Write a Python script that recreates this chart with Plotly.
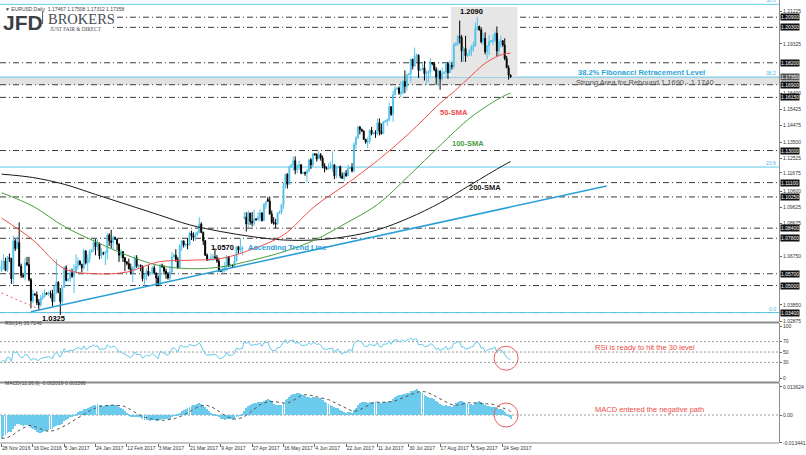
import plotly.graph_objects as go
import pandas as pd
import numpy as np

# ---------------- DATA ----------------
opens = [1.0590,1.0615,1.0645,1.0590,1.0665,
 1.0660,1.0540,1.0765,1.0720,1.0755,1.0615,
 1.0560,1.0555,1.0635,1.0625,1.0535,1.0410,
 1.0450,1.0445,1.0400,1.0385,1.0425,1.0435,
 1.0455,1.0450,1.0455,1.0450,1.0405,1.0495,
 1.0520,1.0460,1.0405,1.0490,1.0605,
 1.0530,1.0540,1.0575,1.0555,1.0580,1.0615,
 1.0645,1.0625,1.0605,1.0705,1.0635,1.0660,
 1.0700,1.0710,1.0755,1.0730,1.0750,1.0675,
 1.0695,1.0690,1.0695,1.0800,1.0765,1.0755,
 1.0785,1.0775,1.0745,1.0680,1.0700,1.0665,
 1.0640,1.0630,1.0600,1.0575,1.0605,1.0665,
 1.0615,1.0620,1.0615,1.0540,1.0560,1.0585,
 1.0565,1.0575,1.0605,1.0575,1.0545,1.0505,
 1.0620,1.0610,1.0585,1.0570,1.0545,1.0580,
 1.0670,1.0680,1.0655,1.0605,1.0735,1.0765,
 1.0740,1.0745,1.0740,1.0810,1.0795,1.0785,
 1.0800,1.0815,1.0865,1.0815,1.0765,1.0680,
 1.0650,1.0655,1.0665,1.0670,1.0665,1.0645,
 1.0590,1.0585,1.0600,1.0615,1.0670,1.0615,
 1.0620,1.0615,1.0645,1.0730,1.0710,1.0715,
 1.0900,1.0905,1.0865,1.0930,1.0880,1.0870,
 1.0895,1.0890,1.0905,1.0930,1.0885,1.0980,
 1.1010,1.1000,1.0925,1.0875,1.0870,1.0865,
 1.0930,1.0935,1.0980,1.1090,1.1160,1.1100,
 1.1205,1.1215,1.1240,1.1185,1.1210,1.1215,
 1.1165,1.1170,1.1165,1.1180,1.1245,1.1215,
 1.1280,1.1275,1.1250,1.1275,1.1255,1.1210,
 1.1195,1.1190,1.1200,1.1210,1.1215,1.1150,
 1.1200,1.1205,1.1150,1.1135,1.1165,1.1150,
 1.1195,1.1200,1.1180,1.1335,1.1375,1.1440,
 1.1425,1.1415,1.1365,1.1350,1.1355,1.1420,
 1.1400,1.1405,1.1400,1.1465,1.1415,1.1400,
 1.1470,1.1475,1.1480,1.1560,1.1515,1.1630,
 1.1665,1.1670,1.1640,1.1645,1.1710,1.1680,
 1.1750,1.1755,1.1840,1.1800,1.1860,1.1865,
 1.1775,1.1780,1.1790,1.1755,1.1760,1.1765,
 1.1820,1.1815,1.1780,1.1735,1.1770,1.1725,
 1.1760,1.1765,1.1815,1.1760,1.1805,1.1800,
 1.1925,1.1935,1.1975,1.1970,1.1890,1.1905,
 1.1860,1.1870,1.1890,1.1915,1.1920,1.2025,
 1.2035,1.2015,1.1945,1.1965,1.1885,1.1920,
 1.1945,1.1950,1.1955,1.1995,1.1890,1.1940,
 1.1950,1.1925,1.1845,1.1790,1.17467]
highs = [1.0650,1.0685,1.0665,1.0675,1.0690,
 1.0665,1.0795,1.0775,1.0790,1.0875,1.0630,
 1.0575,1.0665,1.0670,1.0670,1.0545,1.0475,
 1.0455,1.0465,1.0420,1.0445,1.0460,1.0475,
 1.0460,1.0465,1.0470,1.0475,1.0500,1.0655,
 1.0525,1.0485,1.0495,1.0615,1.0620,
 1.0545,1.0600,1.0600,1.0625,1.0685,1.0665,
 1.0650,1.0630,1.0720,1.0710,1.0685,1.0715,
 1.0715,1.0775,1.0775,1.0775,1.0755,1.0725,
 1.0700,1.0705,1.0810,1.0810,1.0830,1.0795,
 1.0790,1.0775,1.0750,1.0715,1.0705,1.0670,
 1.0645,1.0660,1.0630,1.0615,1.0680,1.0680,
 1.0625,1.0625,1.0620,1.0570,1.0600,1.0620,
 1.0580,1.0615,1.0620,1.0575,1.0560,1.0630,
 1.0630,1.0620,1.0600,1.0580,1.0615,1.0700,
 1.0690,1.0715,1.0670,1.0745,1.0770,1.0765,
 1.0750,1.0780,1.0820,1.0825,1.0815,1.0815,
 1.0825,1.0905,1.0875,1.0820,1.0770,1.0690,
 1.0660,1.0690,1.0685,1.0720,1.0680,1.0665,
 1.0595,1.0615,1.0640,1.0680,1.0675,1.0625,
 1.0625,1.0680,1.0735,1.0735,1.0780,1.0735,
 1.0935,1.0935,1.0945,1.0930,1.0935,1.0950,
 1.0900,1.0935,1.0950,1.0935,1.0990,1.1000,
 1.1025,1.1025,1.0945,1.0905,1.0895,1.0935,
 1.0945,1.0985,1.1110,1.1160,1.1165,1.1210,
 1.1220,1.1265,1.1265,1.1215,1.1240,1.1220,
 1.1175,1.1175,1.1190,1.1250,1.1255,1.1285,
 1.1285,1.1285,1.1295,1.1285,1.1270,1.1225,
 1.1205,1.1225,1.1235,1.1295,1.1220,1.1210,
 1.1210,1.1210,1.1170,1.1175,1.1185,1.1215,
 1.1205,1.1225,1.1350,1.1385,1.1445,1.1445,
 1.1430,1.1420,1.1370,1.1380,1.1425,1.1440,
 1.1410,1.1420,1.1490,1.1490,1.1460,1.1475,
 1.1480,1.1490,1.1585,1.1560,1.1655,1.1680,
 1.1675,1.1680,1.1710,1.1715,1.1775,1.1750,
 1.1760,1.1845,1.1845,1.1910,1.1875,1.1870,
 1.1785,1.1825,1.1830,1.1775,1.1775,1.1845,
 1.1825,1.1825,1.1795,1.1785,1.1775,1.1790,
 1.1770,1.1825,1.1825,1.1835,1.1825,1.1940,
 1.1940,1.1985,1.2070,1.1985,1.1915,1.1980,
 1.1875,1.1900,1.1925,1.1945,1.2060,1.2092,
 1.2040,1.2030,1.1995,1.2000,1.1925,1.1985,
 1.1955,1.1990,1.2005,1.2035,1.1960,1.1980,
 1.1955,1.1965,1.1860,1.1805,1.17508]
lows = [1.0580,1.0595,1.0585,1.0580,1.0640,
 1.0510,1.0505,1.0705,1.0715,1.0615,1.0545,
 1.0545,1.0530,1.0615,1.0525,1.0365,1.0395,
 1.0440,1.0385,1.0352,1.0375,1.0415,1.0430,
 1.0445,1.0440,1.0425,1.0375,1.0400,1.0450,
 1.0455,1.0325,1.0390,1.0485,1.0525,
 1.0525,1.0520,1.0545,1.0455,1.0570,1.0595,
 1.0620,1.0580,1.0595,1.0625,1.0585,1.0635,
 1.0695,1.0700,1.0680,1.0710,1.0655,1.0660,
 1.0680,1.0620,1.0655,1.0735,1.0720,1.0715,
 1.0770,1.0710,1.0640,1.0660,1.0640,1.0585,
 1.0620,1.0595,1.0565,1.0520,1.0590,1.0605,
 1.0605,1.0585,1.0525,1.0495,1.0530,1.0555,
 1.0560,1.0570,1.0565,1.0495,1.0495,1.0500,
 1.0605,1.0565,1.0540,1.0535,1.0525,1.0575,
 1.0665,1.0640,1.0600,1.0605,1.0705,1.0725,
 1.0730,1.0715,1.0735,1.0770,1.0765,1.0765,
 1.0795,1.0810,1.0810,1.0740,1.0675,1.0650,
 1.0645,1.0650,1.0645,1.0655,1.0635,1.0580,
 1.0580,1.0570,1.0580,1.0585,1.0610,1.0605,
 1.0605,1.0605,1.0640,1.0690,1.0695,1.0680,
 1.0890,1.0820,1.0845,1.0860,1.0850,1.0855,
 1.0885,1.0885,1.0880,1.0880,1.0880,1.0955,
 1.0995,1.0920,1.0865,1.0860,1.0840,1.0860,
 1.0925,1.0920,1.0955,1.1075,1.1075,1.1100,
 1.1200,1.1180,1.1160,1.1165,1.1185,1.1160,
 1.1160,1.1150,1.1110,1.1170,1.1190,1.1205,
 1.1270,1.1235,1.1250,1.1240,1.1195,1.1170,
 1.1185,1.1185,1.1190,1.1175,1.1130,1.1135,
 1.1195,1.1135,1.1135,1.1120,1.1145,1.1150,
 1.1190,1.1170,1.1170,1.1310,1.1370,1.1395,
 1.1410,1.1365,1.1340,1.1315,1.1340,1.1390,
 1.1395,1.1375,1.1390,1.1390,1.1395,1.1400,
 1.1465,1.1445,1.1475,1.1505,1.1470,1.1630,
 1.1660,1.1630,1.1615,1.1630,1.1640,1.1655,
 1.1745,1.1705,1.1780,1.1800,1.1825,1.1730,
 1.1770,1.1775,1.1715,1.1690,1.1705,1.1740,
 1.1805,1.1770,1.1690,1.1680,1.1660,1.1715,
 1.1750,1.1735,1.1725,1.1760,1.1780,1.1785,
 1.1920,1.1920,1.1935,1.1825,1.1825,1.1825,
 1.1855,1.1860,1.1860,1.1885,1.1915,1.2010,
 1.2010,1.1935,1.1925,1.1870,1.1840,1.1865,
 1.1940,1.1925,1.1940,1.1860,1.1860,1.1910,
 1.1915,1.1835,1.1790,1.1720,1.17312]
closes = [1.0615,1.0645,1.0590,1.0665,1.0660,
 1.0540,1.0765,1.0720,1.0755,1.0615,1.0560,
 1.0555,1.0635,1.0625,1.0535,1.0410,1.0450,
 1.0445,1.0400,1.0385,1.0425,1.0435,1.0455,
 1.0450,1.0455,1.0450,1.0405,1.0495,1.0520,
 1.0460,1.0405,1.0490,1.0605,1.0530,
 1.0540,1.0575,1.0555,1.0580,1.0615,1.0645,
 1.0625,1.0605,1.0705,1.0635,1.0660,1.0700,
 1.0710,1.0755,1.0730,1.0750,1.0675,1.0695,
 1.0690,1.0695,1.0800,1.0765,1.0755,1.0785,
 1.0775,1.0745,1.0680,1.0700,1.0665,1.0640,
 1.0630,1.0600,1.0575,1.0605,1.0665,1.0615,
 1.0620,1.0615,1.0540,1.0560,1.0585,1.0565,
 1.0575,1.0605,1.0575,1.0545,1.0505,1.0620,
 1.0610,1.0585,1.0570,1.0545,1.0580,1.0670,
 1.0680,1.0655,1.0605,1.0735,1.0765,1.0740,
 1.0745,1.0740,1.0810,1.0795,1.0785,1.0800,
 1.0815,1.0865,1.0815,1.0765,1.0680,1.0650,
 1.0655,1.0665,1.0670,1.0665,1.0645,1.0590,
 1.0585,1.0600,1.0615,1.0670,1.0615,1.0620,
 1.0615,1.0645,1.0730,1.0710,1.0715,1.0725,
 1.0905,1.0865,1.0930,1.0880,1.0870,1.0895,
 1.0890,1.0905,1.0930,1.0885,1.0980,1.0995,
 1.1000,1.0925,1.0875,1.0870,1.0865,1.0930,
 1.0935,1.0980,1.1090,1.1160,1.1100,1.1205,
 1.1215,1.1240,1.1185,1.1210,1.1215,1.1165,
 1.1170,1.1165,1.1180,1.1245,1.1215,1.1280,
 1.1275,1.1250,1.1275,1.1255,1.1210,1.1195,
 1.1190,1.1200,1.1210,1.1215,1.1150,1.1200,
 1.1205,1.1150,1.1135,1.1165,1.1150,1.1195,
 1.1200,1.1180,1.1335,1.1375,1.1440,1.1425,
 1.1415,1.1365,1.1350,1.1355,1.1420,1.1400,
 1.1405,1.1400,1.1465,1.1415,1.1400,1.1470,
 1.1475,1.1480,1.1560,1.1515,1.1630,1.1665,
 1.1670,1.1640,1.1645,1.1710,1.1680,1.1750,
 1.1755,1.1840,1.1800,1.1860,1.1865,1.1775,
 1.1780,1.1790,1.1755,1.1760,1.1765,1.1820,
 1.1815,1.1780,1.1735,1.1770,1.1725,1.1760,
 1.1765,1.1815,1.1760,1.1805,1.1800,1.1925,
 1.1935,1.1975,1.1970,1.1890,1.1905,1.1860,
 1.1870,1.1890,1.1915,1.1920,1.2025,1.2035,
 1.2015,1.1945,1.1965,1.1885,1.1920,1.1945,
 1.1950,1.1955,1.1995,1.1890,1.1940,1.1950,
 1.1925,1.1845,1.1790,1.1747,1.17358]

# closes before the visible window (indicator warm-up)
pre_closes = [1.1200,1.1140,1.1055,1.1015,1.1055,1.0975,
 1.0975,1.1000,1.0975,1.0975,1.0930,1.0885,
 1.0885,1.0880,1.0880,1.0920,1.0895,1.0985,
 1.0985,1.0980,1.1055,1.1095,1.1105,1.1140,
 1.1080,1.1040,1.1025,1.0920,1.0895,1.0850,
 1.0850,1.0730,1.0720,1.0690,1.0630,1.0590,
 1.0590,1.0630,1.0630,1.0550,1.0545,1.0590,1.0590]

date_labels = ["28 Nov 2016","16 Dec 2016","5 Jan 2017","24 Jan 2017","12 Feb 2017",
 "3 Mar 2017","21 Mar 2017","9 Apr 2017","27 Apr 2017","16 May 2017","4 Jun 2017",
 "22 Jun 2017","11 Jul 2017","30 Jul 2017","17 Aug 2017","5 Sep 2017","24 Sep 2017"]
bars_per_label = 16

sma_x = [0,16,32,48,64,80,96,112,128,144,160,176,192,208,224,232,240,248,256,260]
sma50 = [1.0900,1.0770,1.0600,1.0570,1.0580,1.0640,1.0650,1.0660,1.0715,1.0800,
         1.0970,1.1100,1.1240,1.1400,1.1580,1.1658,1.1745,1.1825,1.1870,1.1877]
sma100_x = [0,16,32,48,64,80,96,112,128,144,160,176,192,208,224,240,256,260]
sma100 = [1.1050,1.0970,1.0850,1.0760,1.0680,1.0620,1.0600,1.0610,1.0650,1.0700,
          1.0770,1.0870,1.0980,1.1150,1.1330,1.1500,1.1620,1.1640]
sma200_x = [0,16,32,48,64,80,96,112,128,144,160,176,192,208,224,240,256,260]
sma200 = [1.1160,1.1140,1.1100,1.1040,1.0980,1.0920,1.0860,1.0820,1.0790,1.0770,
          1.0770,1.0790,1.0830,1.0900,1.0990,1.1100,1.1210,1.1235]

trend_x = [15, 309]
trend_y = [1.0345, 1.1090]
old_trend_x = [0, 19]
old_trend_y = [1.0456, 1.0361]

fib_low, fib_high = 1.0340, 1.3993
fib_levels = [0.0, 23.6, 38.2, 50.0]

hlines = [1.2090,1.2030,1.1820,1.1690,1.1615,1.1300,1.1110,1.1025,1.0840,1.0780,1.0570,1.0500,1.0340]
hline_labels = ["1.20900","1.20300","1.18200","1.16900","1.16150","1.13000","1.11100",
                "1.10250","1.08400","1.07800","1.05700","1.05000","1.03400"]
axis_ticks = [1.21225,1.19325,1.16400,1.15425,1.14475,1.13500,1.12525,1.11675,
              1.10600,1.09625,1.08675,1.06750,1.03850,1.02875]
rebound_zone = [1.1690, 1.1735]
box_x = [229.5, 263.5]
box_y = [1.1735, 1.2150]

# ---------------- INDICATORS ----------------
n = len(closes)
idx = np.arange(n)
allc = pd.Series(pre_closes + closes)
d = allc.diff()
g = d.clip(lower=0).ewm(alpha=1/14, adjust=False).mean()
l_ = (-d.clip(upper=0)).ewm(alpha=1/14, adjust=False).mean()
rsi = (100 - 100/(1 + g/l_)).iloc[-n:].values
ema12 = allc.ewm(span=12, adjust=False).mean()
ema26 = allc.ewm(span=26, adjust=False).mean()
macd_s = ema12 - ema26
sig_s = macd_s.rolling(9).mean()
macd = macd_s.iloc[-n:].values
sig = sig_s.iloc[-n:].values

# ---------------- FIGURE ----------------
BULL = "#55c3ea"
H = 443.0
def ppy(py):
    return (H - py) / H
def ppx(px):
    return px / 786.0

XR = [-0.8, 397.1]
fig = go.Figure()

fig.add_trace(go.Candlestick(x=idx, open=opens, high=highs, low=lows, close=closes,
    increasing=dict(line=dict(color=BULL, width=1), fillcolor=BULL),
    decreasing=dict(line=dict(color="#000000", width=1), fillcolor="#000000"),
    whiskerwidth=0, xaxis="x", yaxis="y", showlegend=False, hoverinfo="skip"))

fig.add_trace(go.Scatter(x=sma200_x, y=sma200, mode="lines", line=dict(color="#1a1a1a", width=1, shape="spline"),
                         xaxis="x", yaxis="y", showlegend=False))
fig.add_trace(go.Scatter(x=sma100_x, y=sma100, mode="lines", line=dict(color="#4a9d3f", width=1, shape="spline"),
                         xaxis="x", yaxis="y", showlegend=False))
fig.add_trace(go.Scatter(x=sma_x, y=sma50, mode="lines", line=dict(color="#f0504a", width=1, shape="spline"),
                         xaxis="x", yaxis="y", showlegend=False))
fig.add_trace(go.Scatter(x=trend_x, y=trend_y, mode="lines", line=dict(color="#2a9fd8", width=1.6),
                         xaxis="x", yaxis="y", showlegend=False))
fig.add_trace(go.Scatter(x=old_trend_x, y=old_trend_y, mode="lines",
                         line=dict(color="#e8625f", width=1, dash="2px,3px"),
                         xaxis="x", yaxis="y", showlegend=False))

# RSI
fig.add_trace(go.Scatter(x=idx, y=rsi, mode="lines", line=dict(color="#62c9ea", width=1),
                         xaxis="x2", yaxis="y2", showlegend=False))
# MACD
fig.add_trace(go.Bar(x=idx, y=macd, marker=dict(color="#6ccbec", line=dict(width=0)), width=0.45,
                     xaxis="x3", yaxis="y3", showlegend=False))
fig.add_trace(go.Scatter(x=idx, y=sig, mode="lines", line=dict(color="#555555", width=1, dash="dot"),
                         xaxis="x3", yaxis="y3", showlegend=False))

shapes = []
shapes.append(dict(type="rect", xref="paper", yref="y", x0=0, x1=1, y0=rebound_zone[0], y1=rebound_zone[1],
                   fillcolor="#e2e2e2", line=dict(width=0), layer="below"))
shapes.append(dict(type="rect", xref="x", yref="y", x0=box_x[0], x1=box_x[1], y0=box_y[0], y1=box_y[1],
                   fillcolor="#e6e6e6", line=dict(width=0), layer="below"))
for v in hlines:
    shapes.append(dict(type="line", xref="paper", yref="y", x0=0, x1=1, y0=v, y1=v,
                       line=dict(color="#3a3a3a", width=1, dash="6px,3px,1px,3px"), layer="below"))
for lv in fib_levels:
    p = fib_low + lv / 100.0 * (fib_high - fib_low)
    shapes.append(dict(type="line", xref="paper", yref="y", x0=0, x1=1, y0=p, y1=p,
                       line=dict(color="#5ec8ec", width=1), layer="below"))
for v in [70, 50, 30]:
    shapes.append(dict(type="line", xref="paper", yref="y2", x0=0, x1=1, y0=v, y1=v,
                       line=dict(color="#9a9a9a", width=1, dash="2px,2px"), layer="below"))
shapes.append(dict(type="line", xref="paper", yref="y3", x0=0, x1=1, y0=0, y1=0,
                   line=dict(color="#9a9a9a", width=1, dash="2px,2px"), layer="below"))
for py in [322.5, 382.5]:
    shapes.append(dict(type="line", xref="paper", yref="paper", x0=0, x1=1, y0=ppy(py), y1=ppy(py),
                       line=dict(color="#8c8c8c", width=2)))
shapes.append(dict(type="line", xref="paper", yref="paper", x0=0, x1=1, y0=0, y1=0,
                   line=dict(color="#8c8c8c", width=1)))
shapes.append(dict(type="rect", xref="paper", yref="paper", x0=0, x1=ppx(114), y0=ppy(31), y1=ppy(7),
                   fillcolor="white", line=dict(width=0), layer="above"))
shapes.append(dict(type="line", xref="paper", yref="paper", x0=ppx(43), x1=ppx(43), y0=ppy(24), y1=ppy(11),
                   line=dict(color="#555", width=1), layer="above"))
shapes.append(dict(type="circle", xref="x2", yref="y2", xsizemode="pixel", ysizemode="pixel",
                   xanchor=257.7, yanchor=38.0, x0=-12, x1=12, y0=-12, y1=12,
                   line=dict(color="#e8625f", width=1)))
shapes.append(dict(type="circle", xref="x3", yref="y3", xsizemode="pixel", ysizemode="pixel",
                   xanchor=257.7, yanchor=0.0, x0=-12, x1=12, y0=-12, y1=12,
                   line=dict(color="#e8625f", width=1)))

F = "Liberation Sans"
ann = []
def A(text, x, y, xref="x", yref="y", size=7.5, color="#000", **kw):
    d = dict(text=text, x=x, y=y, xref=xref, yref=yref, showarrow=False,
             font=dict(family=F, size=size, color=color))
    d.update(kw)
    ann.append(d)

for v, t in zip(hlines, hline_labels):
    A(t, 1.0, v, xref="paper", size=5, color="white", xanchor="left", bgcolor="#111", borderpad=0, xshift=1)
A("1.17350", 1.0, fib_low + 0.382 * (fib_high - fib_low), xref="paper", size=5, color="white",
  xanchor="left", bgcolor="#555", borderpad=0, xshift=1)
for lv in fib_levels:
    p = fib_low + lv / 100.0 * (fib_high - fib_low)
    A("%.1f" % lv, 0.999, p, xref="paper", size=5, color="#3fb6e6", xanchor="right", yanchor="bottom",
      yshift=-1)

A("<b>1.2090</b>", 240, 1.2121)
A("<b>38.2% Fibonacci Retracement Level</b>", 326.7, 1.1760, color="#2aa4d8")
A("Strong Area for Rebound 1.1690 - 1.1740", 328.7, 1.1706, color="#555555")
A("<b>50-SMA</b>", 230.9, 1.1528, color="#ee4b46")
A("<b>100-SMA</b>", 238.0, 1.1344, color="#4a9d3f")
A("<b>200-SMA</b>", 247.0, 1.1083, color="#1a1a1a")
A("<b>Ascending Trend Line</b>", 145.7, 1.0724, color="#2a9fd8")
A("<b>1.0570</b>", 112.8, 1.0728)
A("<b>1.0325</b>", 26.6, 1.0307)
A("RSI is ready to hit the 30 level", 328.7, 59.5, xref="x2", yref="y2", color="#ee4b46")
A("MACD entered the negative path", 330.7, 0.0025, xref="x3", yref="y3", color="#ee4b46")
A("▼ EURUSD,Daily  1.17467 1.17508 1.17312 1.17358", ppx(3), ppy(4.0), xref="paper", yref="paper",
  size=5, color="#444", xanchor="left")
A("RSI(14) 35.7246", ppx(3), ppy(328), xref="paper", yref="paper", size=5, color="#444", xanchor="left")
A("MACD(12,26,9) -0.002019 0.001566", ppx(3), ppy(387.5), xref="paper", yref="paper", size=5,
  color="#444", xanchor="left")
# logo
A("<b>JFD</b>", ppx(1), ppy(9), xref="paper", yref="paper", size=21, color="#3b3f46", xanchor="left",
  yanchor="top")
A("BROKERS", ppx(46), ppy(9), xref="paper", yref="paper", size=14.5, color="#474b52", xanchor="left",
  yanchor="top")
ann[-1]["font"]["family"] = "Liberation Serif"
A("JUST FAIR &amp; DIRECT", ppx(48), ppy(24), xref="paper", yref="paper", size=5.3, color="#474b52",
  xanchor="left", yanchor="top")
ann[-1]["font"]["family"] = "Liberation Serif"

axis_common = dict(showgrid=False, zeroline=False, showline=False)
ytick_font = dict(family=F, size=5, color="#333")
fig.update_layout(
    width=806, height=455, margin=dict(l=0, r=20, t=0, b=12),
    paper_bgcolor="white", plot_bgcolor="white", showlegend=False, bargap=0,
    xaxis=dict(domain=[0, 1], range=XR, anchor="y", showticklabels=False, rangeslider=dict(visible=False),
               **axis_common),
    xaxis2=dict(domain=[0, 1], range=XR, anchor="y2", showticklabels=False, matches="x", **axis_common),
    xaxis3=dict(domain=[0, 1], range=XR, anchor="y3", matches="x",
                tickvals=[i * bars_per_label for i in range(len(date_labels))], ticktext=date_labels,
                ticks="outside", ticklen=3, tickcolor="#666", tickangle=0,
                tickfont=dict(family=F, size=5, color="#333"),
                ticklabelposition="outside right", **axis_common),
    yaxis=dict(domain=[ppy(322), 1], range=[1.0284, 1.2192], side="right", anchor="x",
               tickvals=axis_ticks, ticktext=["%.5f" % v for v in axis_ticks], ticks="outside", ticklen=2,
               tickcolor="#666", tickfont=ytick_font, showgrid=False, zeroline=False,
               showline=True, linecolor="#8c8c8c", linewidth=1),
    yaxis2=dict(domain=[ppy(382), ppy(323)], range=[-7.7, 105.8], side="right", anchor="x2",
                tickvals=[100, 70, 50, 30, 0], ticktext=["100", "70", "50", "30", "0"], ticks="outside",
                ticklen=2, tickcolor="#666", tickfont=ytick_font, showgrid=False, zeroline=False,
                showline=True, linecolor="#8c8c8c", linewidth=1),
    yaxis3=dict(domain=[0, ppy(383)], range=[-0.01353, 0.01547], side="right", anchor="x3",
                tickvals=[0.013624, 0.0, -0.013441], ticktext=["0.013624", "0.00", "-0.013441"],
                ticks="outside", ticklen=2, tickcolor="#666", tickfont=ytick_font, showgrid=False,
                zeroline=False, showline=True, linecolor="#8c8c8c", linewidth=1),
    shapes=shapes, annotations=ann,
)
fig.write_html("out.html")
